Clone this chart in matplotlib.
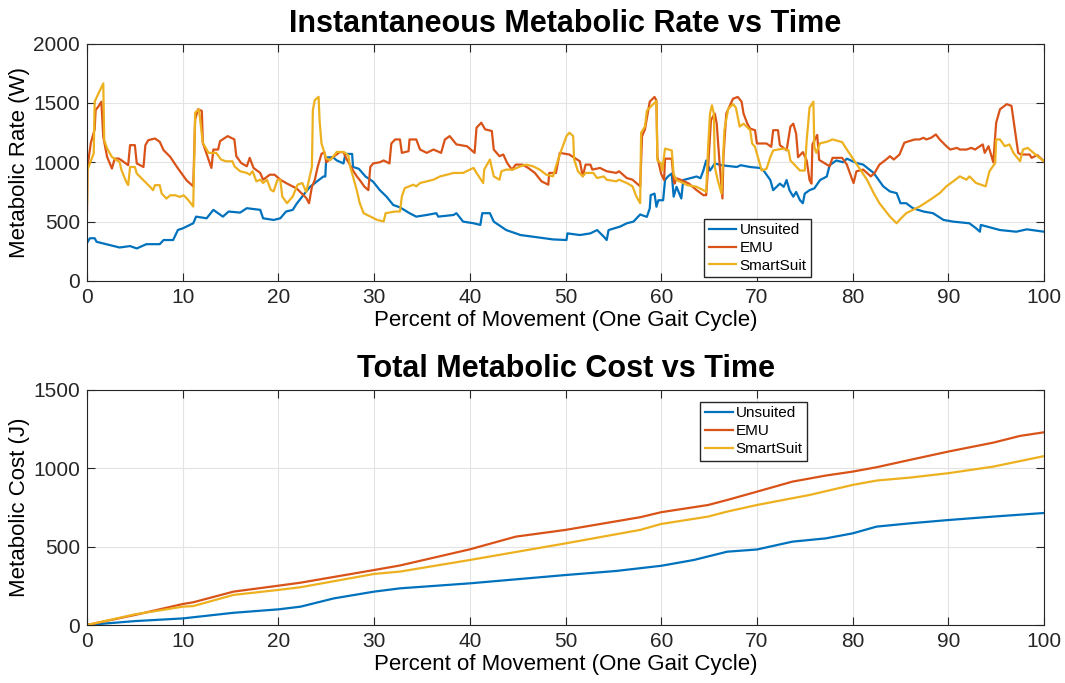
import numpy as np
import matplotlib
matplotlib.use("Agg")
import matplotlib.pyplot as plt

plt.rcParams['font.family'] = ['Liberation Sans', 'DejaVu Sans']

# ---- instantaneous metabolic rate (W) ----
x_uns = [0, 0.3, 0.8, 1.0, 1.7, 3.4, 4.5, 5.2, 6.2, 7.6, 8.0, 9.0, 9.5, 10.0, 11.1, 11.4, 12.5, 13.2,
         14.2, 14.8, 16.0, 16.7, 18.1, 18.4, 19.5, 20.2, 20.8, 21.5, 21.9, 22.6, 23.3, 24.0, 24.7, 24.9,
         25.0, 25.7, 26.1, 26.8, 27.0, 27.7, 27.8, 28.4, 29.1, 29.9, 30.6, 31.3, 32.0, 32.7, 33.7, 34.4,
         35.5, 36.5, 36.7, 38.3, 38.6, 39.3, 40.4, 41.1, 41.3, 42.1, 42.5, 43.8, 45.3, 46.6, 48.7, 50.1,
         50.2, 51.5, 52.6, 53.3, 54.0, 54.3, 54.5, 55.7, 56.4, 57.1, 57.8, 58.5, 58.8, 58.9, 59.3, 59.5,
         59.7, 60.2, 60.4, 60.7, 61.1, 61.3, 61.6, 62.1, 62.3, 63.7, 64.1, 64.4, 64.7, 65.1, 65.6, 66.3,
         67.9, 68.3, 69.3, 70.3, 70.7, 71.4, 71.7, 72.4, 72.8, 73.1, 73.4, 73.8, 74.1, 74.5, 74.8, 75.0,
         75.5, 76.0, 76.6, 77.3, 77.6, 78.3, 79.0, 79.4, 80.4, 81.1, 82.2, 83.2, 83.9, 84.6, 85.0, 85.6,
         86.3, 87.4, 88.4, 89.5, 90.5, 91.5, 92.2, 92.9, 93.3, 93.4, 95.4, 97.1, 98.2, 100]
y_uns = [320, 360, 360, 330, 316, 282, 294, 274, 310, 310, 345, 345, 430, 443, 486, 542, 528, 599,
         542, 585, 576, 613, 599, 528, 514, 528, 585, 599, 650, 723, 793, 836, 880, 880,
         1040, 1043, 1015, 990, 1070, 1070, 960, 945, 880, 836, 765, 710, 640, 620, 571, 542,
         556, 571, 542, 556, 571, 500, 486, 472, 571, 571, 500, 429, 387, 373, 350, 345,
         401, 387, 401, 429, 373, 345, 429, 458, 486, 500, 560, 540, 610, 723, 736, 625,
         680, 680, 850, 880, 905, 710, 793, 695, 850, 880, 865, 930, 1015, 930, 990, 975,
         960, 975, 960, 952, 930, 850, 765, 820, 793, 850, 765, 710, 750, 680, 655, 736,
         765, 780, 850, 880, 975, 1015, 1000, 1030, 994, 980, 910, 797, 754, 740, 655, 655,
         613, 585, 571, 514, 500, 492, 486, 444, 415, 472, 429, 415, 435, 415]

x_emu = [0, 0.05, 0.4, 0.8, 0.9, 1.2, 1.5, 1.7, 2.1, 2.6, 2.9, 3.3, 3.6, 4.3, 4.5, 5.0, 5.2, 5.9, 6.1,
         6.4, 7.1, 7.6, 8.0, 8.7, 9.4, 10.4, 11.1, 11.3, 11.6, 12.0, 12.1, 12.7, 13.0, 13.2, 13.7, 13.9,
         14.7, 15.4, 15.6, 16.1, 16.7, 17.0, 17.4, 18.1, 18.4, 19.1, 19.6, 20.2, 20.8, 21.2, 21.9, 22.9,
         23.2, 23.5, 23.8, 24.1, 24.5, 24.8, 25.0, 25.7, 26.4, 26.8, 27.1, 27.5, 27.8, 28.2, 28.5, 29.0,
         29.4, 29.6, 29.9, 30.6, 31.0, 31.6, 31.8, 32.2, 32.7, 32.9, 33.6, 33.7, 34.4, 34.8, 35.5, 36.2,
         37.0, 37.4, 37.9, 38.6, 39.7, 40.5, 40.7, 41.2, 41.6, 42.3, 42.5, 43.1, 43.5, 43.9, 44.4, 44.8,
         45.5, 46.1, 46.8, 47.5, 48.2, 48.3, 49.0, 49.4, 50.4, 51.5, 51.8, 52.1, 52.6, 52.8, 53.6, 54.3,
         55.3, 55.6, 56.4, 57.0, 57.8, 58.0, 58.3, 58.8, 59.3, 59.5, 59.6, 60.0, 60.3, 60.4, 61.1, 61.3,
         61.4, 61.6, 62.1, 62.9, 63.7, 64.4, 64.7, 64.9, 65.2, 65.6, 65.8, 66.1, 66.4, 66.5, 66.8, 67.5,
         68.0, 68.4, 68.6, 69.0, 69.3, 69.8, 70.0, 71.0, 71.5, 71.7, 72.2, 72.4, 73.1, 73.5, 73.8, 74.1,
         74.3, 74.8, 75.2, 75.5, 75.7, 75.8, 76.3, 76.5, 77.6, 77.9, 78.9, 79.4, 79.9, 80.1, 80.4, 81.1,
         81.5, 81.9, 82.3, 82.8, 83.5, 83.9, 84.3, 84.9, 85.4, 85.9, 86.5, 87.0, 87.4, 87.7, 88.2, 88.7,
         89.1, 89.8, 90.2, 90.9, 91.2, 91.9, 92.4, 92.8, 93.3, 93.6, 93.8, 94.2, 94.7, 95.0, 95.4, 96.1,
         96.6, 97.0, 97.3, 97.6, 98.5, 98.7, 99.3, 100]
y_emu = [585, 960, 1164, 1277, 1440, 1470, 1510, 1214, 1045, 947, 1031, 1031, 1017, 975, 1144, 1144, 990, 960, 1144,
         1186, 1200, 1172, 1102, 1045, 960, 848, 797, 1362, 1446, 1432, 1164, 1023, 952, 1107, 1107, 1178,
         1220, 1192, 1051, 994, 966, 1037, 952, 910, 853, 895, 895, 853, 825, 808, 780, 700,
         655, 793, 850, 960, 1070, 1085, 1000, 1043, 1085, 1085, 1030, 975, 930, 880, 850, 793,
         765, 960, 990, 1000, 1015, 990, 1158, 1192, 1192, 1079, 1093, 1192, 1192, 1107, 1079, 1107,
         1079, 1192, 1220, 1150, 1135, 1079, 1291, 1333, 1277, 1263, 1107, 1051, 1065, 994, 938, 980,
         980, 952, 910, 839, 811, 910, 910, 1079, 1065, 1008, 881, 980, 980, 938, 952, 924,
         910, 924, 867, 853, 797, 1220, 1277, 1510, 1550, 1520, 1043, 902, 850, 1030, 1030, 850,
         820, 865, 850, 820, 765, 723, 723, 960, 1355, 1410, 1325, 990, 695, 1043, 1410, 1535,
         1550, 1510, 1410, 1325, 1283, 1270, 1158, 1158, 1130, 1270, 1270, 1144, 1100, 1300, 1325, 1240,
         1043, 1085, 1015, 850, 820, 1150, 1230, 1020, 966, 1037, 1037, 980, 867, 825, 924, 938,
         910, 881, 910, 980, 1023, 1051, 1023, 1065, 1164, 1178, 1192, 1192, 1206, 1192, 1206, 1234,
         1192, 1135, 1107, 1121, 1107, 1107, 1121, 1107, 1135, 1150, 1079, 1135, 1000, 1333, 1446, 1489,
         1475, 1249, 1079, 1065, 1065, 1037, 1060, 1008]

x_ss = [0, 0.05, 0.3, 0.7, 0.8, 1.2, 1.7, 1.8, 2.1, 2.6, 3.1, 3.4, 3.6, 4.1, 4.3, 4.5, 5.0, 5.2, 5.9,
        6.6, 6.9, 7.1, 7.6, 7.8, 8.3, 8.7, 9.2, 9.7, 10.1, 10.6, 11.1, 11.3, 11.7, 12.1, 12.7, 13.5,
        14.0, 14.5, 15.2, 15.4, 16.0, 16.7, 17.0, 17.3, 17.7, 18.1, 18.4, 18.8, 19.2, 19.5, 19.9, 20.2,
        20.4, 20.9, 21.5, 22.0, 22.5, 22.9, 23.2, 23.5, 23.6, 23.8, 24.2, 24.3, 24.5, 25.0, 25.4, 25.7,
        26.1, 26.8, 27.3, 27.5, 27.8, 28.2, 28.5, 28.9, 29.6, 30.3, 31.0, 31.2, 32.2, 32.7, 32.9, 33.2,
        34.1, 34.4, 34.8, 35.5, 36.2, 36.9, 37.6, 38.3, 39.3, 40.0, 40.4, 40.7, 41.4, 41.5, 42.1, 42.5,
        43.1, 43.3, 43.8, 44.5, 45.3, 45.9, 46.6, 47.3, 48.0, 48.7, 49.0, 49.4, 50.1, 50.4, 50.8, 50.9,
        51.3, 51.8, 52.1, 52.9, 53.3, 54.0, 54.3, 55.3, 55.6, 56.4, 57.0, 57.4, 57.8, 57.9, 58.3, 58.5,
        59.0, 59.5, 59.6, 60.0, 60.1, 60.4, 61.1, 61.3, 61.6, 62.0, 62.7, 63.7, 64.4, 64.7, 64.9, 65.1,
        65.3, 65.5, 65.6, 65.9, 66.3, 66.6, 67.0, 67.5, 67.8, 68.2, 68.6, 69.3, 69.5, 69.8, 70.1, 70.5,
        71.0, 71.4, 71.7, 72.8, 73.3, 73.5, 73.8, 74.5, 75.0, 75.2, 75.5, 75.9, 76.0, 76.2, 76.6, 77.3,
        77.9, 78.9, 79.4, 80.1, 80.8, 81.5, 82.2, 82.8, 83.9, 84.6, 84.9, 85.6, 86.3, 87.0, 88.1, 89.1,
        89.8, 90.5, 91.2, 91.9, 92.2, 92.9, 93.9, 94.3, 94.9, 95.0, 95.4, 95.9, 96.4, 96.8, 97.5, 97.8,
        98.3, 98.9, 99.3, 100]
y_ss = [653, 934, 990, 1074, 1510, 1580, 1664, 1186, 1116, 1045, 1017, 1003, 934, 835, 807, 960, 960, 905, 848,
        792, 765, 807, 807, 737, 694, 722, 722, 708, 722, 680, 627, 1418, 1446, 1164, 1079, 1079,
        1023, 1008, 1008, 966, 924, 910, 895, 924, 839, 853, 825, 853, 768, 754, 853, 853,
        712, 655, 712, 811, 825, 750, 853, 962, 1439, 1523, 1551, 1355, 1158, 1031, 1017, 1045,
        1087, 1087, 1059, 962, 878, 760, 655, 571, 543, 515, 501, 571, 585, 585, 712, 782,
        811, 797, 825, 839, 853, 881, 895, 910, 910, 938, 952, 910, 825, 938, 1023, 881,
        853, 924, 938, 938, 966, 980, 966, 938, 895, 881, 966, 1065, 1220, 1249, 1220, 1023,
        924, 881, 910, 910, 867, 881, 853, 839, 853, 825, 797, 712, 655, 1249, 1300, 1434,
        1475, 1517, 1015, 990, 930, 1115, 1100, 900, 850, 836, 808, 793, 765, 750, 1130, 1410,
        1480, 1410, 960, 850, 736, 1270, 1450, 1490, 1460, 1300, 1325, 1270, 1158, 1130, 1043, 930,
        945, 1043, 1100, 1115, 1100, 1015, 990, 930, 930, 1185, 1460, 1510, 1130, 1080, 1160, 1172,
        1192, 1170, 1107, 1023, 938, 853, 740, 655, 542, 486, 514, 571, 599, 627, 684, 740,
        797, 839, 881, 853, 881, 825, 797, 924, 994, 1192, 1192, 1135, 1150, 1079, 1008, 1107,
        1121, 1079, 1051, 1008]

# ---- total metabolic cost (J) ----
xc_uns = [0, 5, 10, 15.3, 20, 22.3, 25.8, 30, 32.7, 40, 50, 55.3, 60, 63.4, 66.9, 70, 73.7, 77.2,
          80, 82.5, 86, 90, 94.7, 100]
yc_uns = [0, 25, 42, 78, 100, 117, 170, 213, 234, 266, 319, 345, 378, 415, 468, 482, 532, 553,
          585, 628, 649, 670, 692, 715]
xc_emu = [0, 5, 10, 11.1, 15.3, 20, 22.3, 30, 32.7, 40, 44.8, 50, 57.8, 60, 64.9, 66.9, 70, 73.7,
          77.2, 80, 82.5, 86, 90, 94.7, 97.5, 100]
yc_emu = [0, 64, 134, 145, 213, 251, 270, 351, 380, 483, 564, 607, 688, 720, 766, 798, 851, 915,
          954, 979, 1007, 1054, 1107, 1164, 1207, 1230]
xc_ss = [0, 5, 10, 11.1, 15.3, 20, 22.3, 30, 32.7, 40, 50, 57.8, 60, 64.9, 66.9, 70, 75.5, 80,
         82.5, 86, 90, 94.7, 100]
yc_ss = [0, 68, 117, 121, 192, 224, 241, 326, 341, 415, 521, 607, 645, 692, 724, 766, 830, 894,
         922, 941, 969, 1011, 1078]

labels = ['Unsuited', 'EMU', 'SmartSuit']
colors = ['#0072BD', '#D95319', '#EDB120']


def style_axes(ax, ylim, yticks):
    ax.set_xlim(0, 100)
    ax.set_ylim(*ylim)
    ax.set_xticks(np.arange(0, 101, 10))
    ax.set_yticks(yticks)
    ax.grid(True, color='#e3e3e3', linewidth=0.8)
    ax.set_axisbelow(True)
    ax.tick_params(direction='in', length=6, width=0.8, top=True, right=True,
                   labelsize=15, colors='#262626', pad=5)
    for s in ax.spines.values():
        s.set_color('#262626')
        s.set_linewidth(0.8)
    ax.set_xlabel('Percent of Movement (One Gait Cycle)', fontsize=16, labelpad=2)


fig = plt.figure(figsize=(10.65, 6.83), dpi=100)
ax1 = fig.add_axes([0.0817, 0.5886, 0.8986, 0.3477])
ax2 = fig.add_axes([0.0817, 0.0849, 0.8986, 0.3441])

for xs, ys, lab, c in zip([x_uns, x_emu, x_ss], [y_uns, y_emu, y_ss], labels, colors):
    ax1.plot(xs, ys, color=c, linewidth=1.6, label=lab)
style_axes(ax1, (0, 2000), np.arange(0, 2001, 500))
ax1.set_ylabel('Metabolic Rate (W)', fontsize=16, labelpad=2)
ax1.set_title('Instantaneous Metabolic Rate vs Time', fontsize=22, fontweight='bold', pad=8)
ax1.legend(loc='lower left', bbox_to_anchor=(0.645, 0.015), fontsize=11, frameon=True,
           fancybox=False, edgecolor='#262626', framealpha=1, borderaxespad=0,
           handlelength=1.8, handletextpad=0.2, labelspacing=0.25, borderpad=0.3)

for xs, ys, lab, c in zip([xc_uns, xc_emu, xc_ss], [yc_uns, yc_emu, yc_ss], labels, colors):
    ax2.plot(xs, ys, color=c, linewidth=1.6, label=lab)
style_axes(ax2, (0, 1500), np.arange(0, 1501, 500))
ax2.set_ylabel('Metabolic Cost (J)', fontsize=16, labelpad=2)
ax2.set_title('Total Metabolic Cost vs Time', fontsize=22, fontweight='bold', pad=9)
ax2.legend(loc='upper left', bbox_to_anchor=(0.641, 0.95), fontsize=11, frameon=True,
           fancybox=False, edgecolor='#262626', framealpha=1, borderaxespad=0,
           handlelength=1.8, handletextpad=0.2, labelspacing=0.25, borderpad=0.3)

fig.savefig('out.png', dpi=100)
